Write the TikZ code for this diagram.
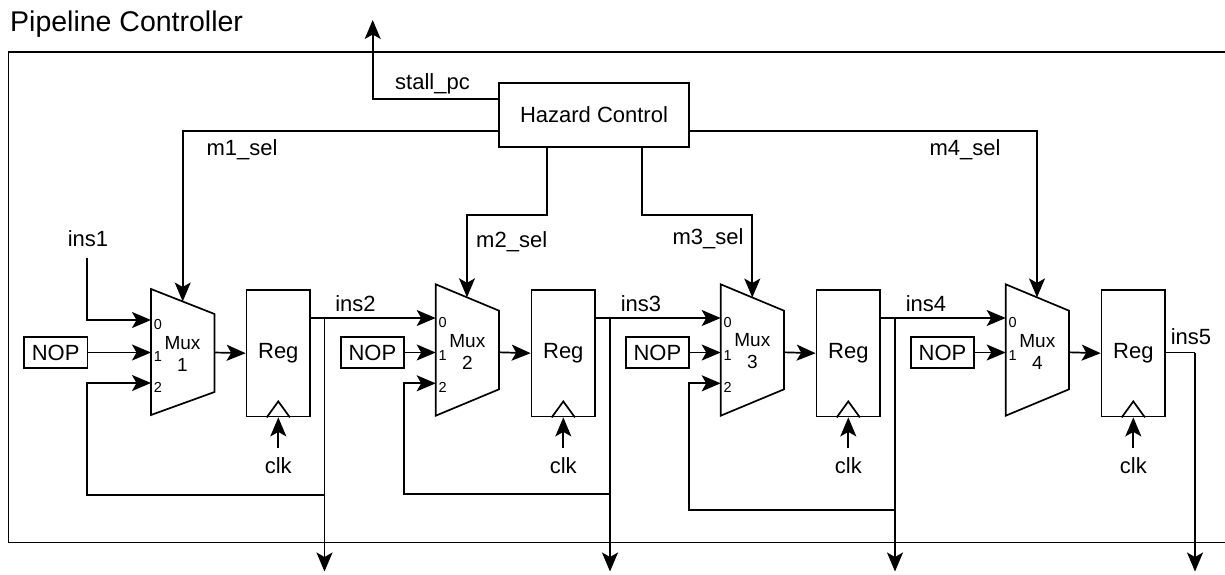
\documentclass[tikz,border=0pt]{standalone}
\usepackage{fontspec}
\setmainfont{Liberation Sans}
\usetikzlibrary{arrows.meta}
\tikzset{
  wire/.style={line width=1.7pt},
  arr/.style={wire,arrows={-Stealth[length=19pt,width=16pt,inset=4.5pt]}},
}
\begin{document}
\begin{tikzpicture}[x=1pt,y=-1pt,
  blk/.style={draw,line width=1.7pt,inner sep=0pt,font=\fontsize{22}{25}\selectfont},
  regbox/.style={blk,minimum width=63.5pt,minimum height=126.7pt,anchor=north west},
  nopbox/.style={blk,minimum width=63.5pt,minimum height=31.6pt},
  lbl/.style={inner sep=0pt,font=\fontsize{22}{25}\selectfont,anchor=base},
  muxlbl/.style={inner sep=0pt,align=center,font=\fontsize{19}{22}\selectfont},
  port/.style={inner sep=0pt,font=\fontsize{14.5}{16}\selectfont},
]
\useasboundingbox (0,0) rectangle (1225,574);
\clip (0,0) rectangle (1225,574);

% title and frame
\node[inner sep=0pt,anchor=base west,font=\fontsize{28.5}{32}\selectfont] (title) at (10,31.5) {Pipeline Controller};
\draw[wire] (1240,52) -- (8.5,52) -- (8.5,542.5) -- (1240,542.5);

% hazard control
\node[blk,minimum width=190pt,minimum height=64pt] (hz) at (594,115) {Hazard Control};

% muxes
\draw[wire] (151,289) -- (214.5,314) -- (214.5,392) -- (151,415) -- cycle;
\draw[wire] (435.7,284.3) -- (499,310.7) -- (499,389.3) -- (435.7,415.7) -- cycle;
\draw[wire] (720.7,284.3) -- (784,310.7) -- (784,389.3) -- (720.7,415.7) -- cycle;
\draw[wire] (1005.7,284.3) -- (1069,310.7) -- (1069,389.3) -- (1005.7,415.7) -- cycle;
\node[muxlbl] (mx1) at (182.5,354) {Mux\\1};
\node[muxlbl] (mx2) at (467.3,351.5) {Mux\\2};
\node[muxlbl] (mx3) at (752.3,351.5) {Mux\\3};
\node[muxlbl] (mx4) at (1037.3,351.5) {Mux\\4};

% port coordinates
\coordinate (m1i0) at (151,320);
\coordinate (m1i1) at (151,352.5);
\coordinate (m1i2) at (151,383);
\coordinate (m1o) at (214.5,352.5);
\coordinate (m1s) at (182.7,301.5);
\coordinate (m2i0) at (435.7,318);
\coordinate (m2i1) at (435.7,352.5);
\coordinate (m2i2) at (435.7,383.3);
\coordinate (m2o) at (499,352.3);
\coordinate (m2s) at (467,297.3);
\coordinate (m3i0) at (720.7,318);
\coordinate (m3i1) at (720.7,352.5);
\coordinate (m3i2) at (720.7,383.3);
\coordinate (m3o) at (784,352.3);
\coordinate (m3s) at (752.3,297.5);
\coordinate (m4i0) at (1005.7,318);
\coordinate (m4i1) at (1005.7,352.5);
\coordinate (m4o) at (1069,352.3);
\coordinate (m4s) at (1037,297.4);

% port labels
\node[port] (p10) at (158,324.5) {0};
\node[port] (p11) at (158,356.5) {1};
\node[port] (p12) at (158,387.5) {2};
\node[port] (p20) at (442.7,322) {0};
\node[port] (p21) at (442.7,355.5) {1};
\node[port] (p22) at (442.7,387) {2};
\node[port] (p30) at (727.7,322) {0};
\node[port] (p31) at (727.7,355.5) {1};
\node[port] (p32) at (727.7,387) {2};
\node[port] (p40) at (1012.7,322) {0};
\node[port] (p41) at (1012.7,355.5) {1};

% registers
\node[regbox] (r1) at (245.7,289) {Reg};
\node[regbox] (r2) at (530.7,289) {Reg};
\node[regbox] (r3) at (815.7,289) {Reg};
\node[regbox] (r4) at (1100.7,289) {Reg};
\foreach \r in {r1,r2,r3,r4}{
  \draw[wire] ([xshift=-11.6pt]\r.south) -- ([yshift=16pt]\r.south) -- ([xshift=11.6pt]\r.south);
}

% NOP boxes
\node[nopbox] (n1) at (55.7,352.5) {NOP};
\node[nopbox] (n2) at (372.4,352.5) {NOP};
\node[nopbox] (n3) at (657.4,352.5) {NOP};
\node[nopbox] (n4) at (942.5,352.5) {NOP};
\draw[arr] (n1.east) -- (m1i1);
\draw[arr] (n2.east) -- (m2i1);
\draw[arr] (n3.east) -- (m3i1);
\draw[arr] (n4.east) -- (m4i1);

% mux -> reg
\draw[arr] (m1o) -- (r1.west);
\draw[arr] (m2o) -- (r2.west);
\draw[arr] (m3o) -- (r3.west);
\draw[arr] (m4o) -- (r4.west);

% clocks
\foreach \r/\c in {r1/c1,r2/c2,r3/c3,r4/c4}{
  \node[lbl] (\c) at ([yshift=-56.3pt]\r.south) {clk};
  \coordinate (\c a) at ([yshift=-31pt]\r.south);
  \draw[arr] (\c a) -- (\r.south);
}

% ins1
\node[lbl] (ins1) at (88,246.5) {ins1};
\coordinate (i1a) at (87.3,258);
\draw[arr] (i1a) -- (87.3,320) -- (m1i0);

% stage outputs
\coordinate (r1q) at (309.2,318);
\coordinate (r2q) at (594.2,318);
\coordinate (r3q) at (879.2,318);
\coordinate (r4q) at (1164.2,352.5);
\coordinate (j1) at (324.5,318);
\coordinate (j2) at (610,318);
\coordinate (j3) at (895,318);
\coordinate (j4) at (1195,352.5);
\draw[arr] (r1q) -- (m2i0);
\draw[arr] (r2q) -- (m3i0);
\draw[arr] (r3q) -- (m4i0);
\draw[wire] (r4q) -- (j4);
\coordinate (o1) at (324.5,571.5);
\coordinate (o2) at (610,571.5);
\coordinate (o3) at (895,571.5);
\coordinate (o4) at (1195,571.5);
\draw[arr] (j1) -- (o1);
\draw[arr] (j2) -- (o2);
\draw[arr] (j3) -- (o3);
\draw[arr] (j4) -- (o4);
\node[lbl] (ins2) at (355.5,311.5) {ins2};
\node[lbl] (ins3) at (641,311.5) {ins3};
\node[lbl] (ins4) at (926,311.5) {ins4};
\node[lbl] (ins5) at (1191,344) {ins5};

% feedback loops
\draw[arr] (324.5,495) -- (87.3,495) -- (87.3,383) -- (m1i2);
\draw[arr] (610,494) -- (404,494) -- (404,383.3) -- (m2i2);
\draw[arr] (895,510) -- (689.3,510) -- (689.3,383.3) -- (m3i2);

% select lines
\draw[arr] (hz.west |- 0,131) -- (182.7,131) -- (m1s);
\draw[arr] (hz.east |- 0,131) -- (1037,131) -- (m4s);
\draw[arr] (547,147) -- (547,215) -- (467,215) -- (m2s);
\draw[arr] (641.7,147) -- (641.7,215) -- (752.3,215) -- (m3s);
\coordinate (stallup) at (372.7,20);
\draw[arr] (hz.west |- 0,99) -- (372.7,99) -- (stallup);

\node[lbl] (stall) at (432.5,89) {stall\_pc};
\node[lbl] (s1) at (242,155) {m1\_sel};
\node[lbl] (s2) at (511.7,247) {m2\_sel};
\node[lbl] (s3) at (708,244) {m3\_sel};
\node[lbl] (s4) at (965,155) {m4\_sel};
\end{tikzpicture}
\end{document}
